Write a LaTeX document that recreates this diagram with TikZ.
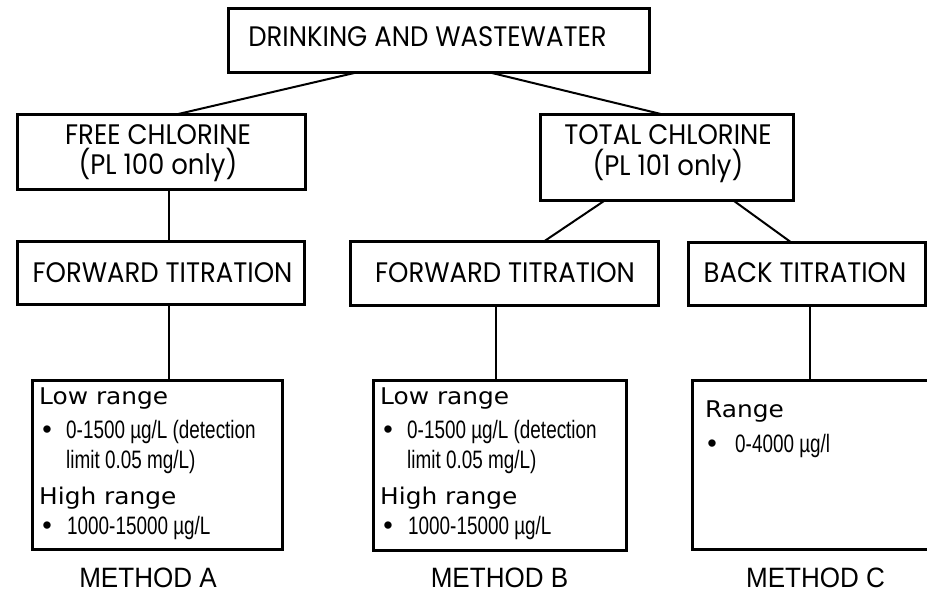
\documentclass[tikz,border=0pt]{standalone}
\usepackage{fontspec}
\setmainfont{Poppins}
\newfontfamily\hdfont{Poppins}[FakeStretch=0.92]
\newfontfamily\rngfont{DejaVu Sans}[FakeStretch=1.08]
\newfontfamily\cndfont{Liberation Sans}[FakeStretch=0.75]
\newfontfamily\bulfont{Liberation Sans}
\newfontfamily\mthfont{Liberation Sans}[FakeStretch=0.93]
\usetikzlibrary{calc}
\tikzset{
  box/.style={draw, line width=3pt, inner sep=0pt, outer sep=0pt, fill=white},
  conn/.style={draw, line width=2pt},
  hd/.style={inner sep=0pt, anchor=base, font=\hdfont\fontsize{28.2}{32}\selectfont},
  rng/.style={inner sep=0pt, anchor=base west, font=\rngfont\fontsize{23}{27}\selectfont},
  cnd/.style={inner sep=0pt, anchor=base west, font=\cndfont\fontsize{25.2}{29}\selectfont},
  bul/.style={inner sep=0pt, anchor=base, font=\bulfont\fontsize{27}{29}\selectfont},
  mth/.style={inner sep=0pt, anchor=base, font=\mthfont\fontsize{28}{32}\selectfont},
}
\begin{document}
\begin{tikzpicture}[x=1pt, y=-1pt]
\useasboundingbox (0,0) rectangle (927,596);
\fill[white] (0,0) rectangle (927,596);
\clip (0,0) rectangle (927,596);

% boxes
\node[box, minimum width=421pt, minimum height=64pt] (top) at (438.5,41) {};
\node[box, minimum width=288pt, minimum height=75pt] (free) at (161,152.5) {};
\node[box, minimum width=253pt, minimum height=86pt] (total) at (666.5,158) {};
\node[box, minimum width=287pt, minimum height=63pt] (fwdA) at (160.5,273.5) {};
\node[box, minimum width=308pt, minimum height=64pt] (fwdB) at (504,274) {};
\node[box, minimum width=237pt, minimum height=63pt] (back) at (806.5,274.5) {};
\node[box, minimum width=250pt, minimum height=169pt] (boxA) at (157,464.5) {};
\node[box, minimum width=253pt, minimum height=170pt] (boxB) at (499.5,465) {};
\node[box, minimum width=238pt, minimum height=169pt] (boxC) at (811,464.5) {};

% box titles
\node[hd] (topt) at (427.5,47) {DRINKING AND WASTEWATER};
\node[hd] (freet1) at (158,145) {FREE CHLORINE};
\node[hd] (freet2) at (158,175) {(PL 100 only)};
\node[hd] (tott1) at (668,145) {TOTAL CHLORINE};
\node[hd] (tott2) at (668,176) {(PL 101 only)};
\node[hd] (fwdAt) at (162.5,283) {FORWARD TITRATION};
\node[hd] (fwdBt) at (505,283) {FORWARD TITRATION};
\node[hd] (backt) at (805,283) {BACK TITRATION};

% connectors
\draw[conn] ($(top.south west)!0.30!(top.south east)$) -- ($(free.north west)!0.545!(free.north east)$);
\draw[conn] ($(top.south west)!0.627!(top.south east)$) -- ($(total.north west)!0.494!(total.north east)$);
\draw[conn] ($(free.south west)!0.528!(free.south east)$) coordinate (c1) -- (c1 |- fwdA.north);
\draw[conn] ($(total.south west)!0.253!(total.south east)$) -- ($(fwdB.north west)!0.627!(fwdB.north east)$);
\draw[conn] ($(total.south west)!0.767!(total.south east)$) -- ($(back.north west)!0.439!(back.north east)$);
\draw[conn] ($(fwdA.south west)!0.530!(fwdA.south east)$) coordinate (c2) -- (c2 |- boxA.north);
\draw[conn] ($(fwdB.south west)!0.474!(fwdB.south east)$) coordinate (c3) -- (c3 |- boxB.north);
\draw[conn] ($(back.south west)!0.515!(back.south east)$) coordinate (c4) -- (c4 |- boxC.north);

% method A contents
\node[rng] (aLow) at ($(boxA.north west)+(7,24)$) {Low range};
\node[bul] (aB1) at ($(boxA.north west)+(15,58)$) {•};
\node[cnd] (aL1) at ($(boxA.north west)+(34,58)$) {0-1500 µg/L (detection};
\node[cnd] (aL2) at ($(boxA.north west)+(34,88)$) {limit 0.05 mg/L)};
\node[rng] (aHigh) at ($(boxA.north west)+(7,124)$) {High range};
\node[bul] (aB2) at ($(boxA.north west)+(15,154)$) {•};
\node[cnd] (aL3) at ($(boxA.north west)+(35,154)$) {1000-15000 µg/L};

% method B contents
\node[rng] (bLow) at ($(boxB.north west)+(7,24)$) {Low range};
\node[bul] (bB1) at ($(boxB.north west)+(15,58)$) {•};
\node[cnd] (bL1) at ($(boxB.north west)+(34,58)$) {0-1500 µg/L (detection};
\node[cnd] (bL2) at ($(boxB.north west)+(34,88)$) {limit 0.05 mg/L)};
\node[rng] (bHigh) at ($(boxB.north west)+(7,124)$) {High range};
\node[bul] (bB2) at ($(boxB.north west)+(15,154)$) {•};
\node[cnd] (bL3) at ($(boxB.north west)+(35,154)$) {1000-15000 µg/L};

% method C contents
\node[rng] (cRange) at ($(boxC.north west)+(13,37)$) {Range};
\node[bul] (cB1) at ($(boxC.north west)+(20,72)$) {•};
\node[cnd] (cL1) at ($(boxC.north west)+(43,72)$) {0-4000 µg/l};

% method labels
\node[mth] (mA) at (148,587) {METHOD A};
\node[mth] (mB) at (499.5,587) {METHOD B};
\node[mth] (mC) at (815.5,587) {METHOD C};
\end{tikzpicture}
\end{document}
